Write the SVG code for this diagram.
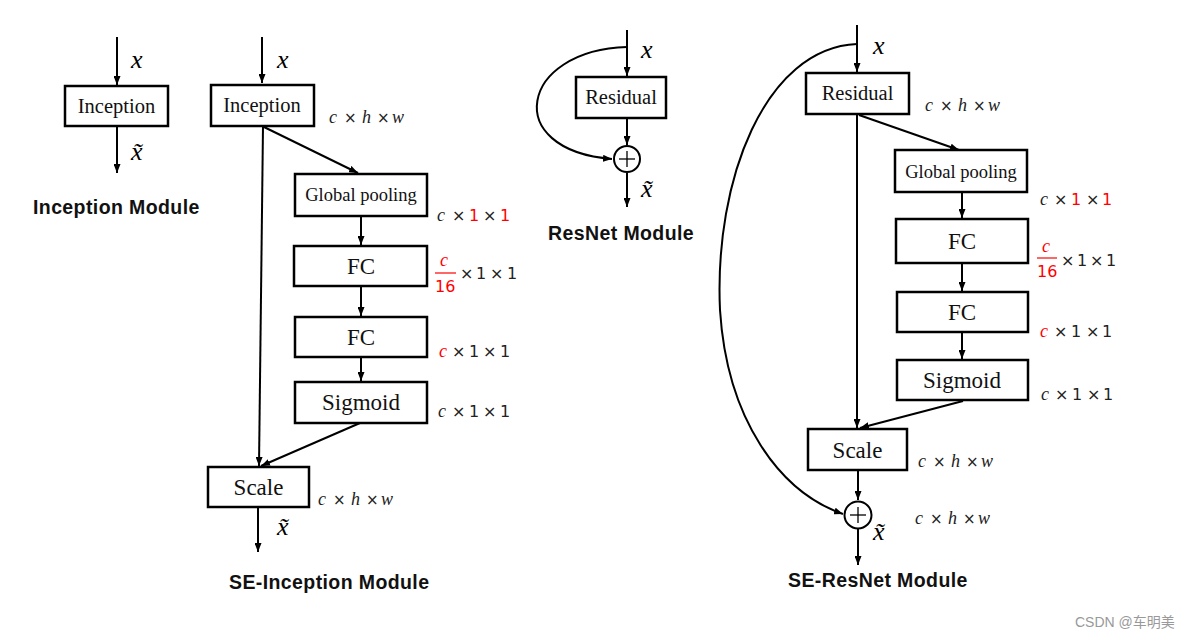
<svg xmlns="http://www.w3.org/2000/svg" width="1190" height="637" viewBox="0 0 1190 637">
<defs>
<marker id="ah" markerUnits="userSpaceOnUse" markerWidth="9" markerHeight="7" refX="9" refY="3.5" orient="auto">
<path d="M0,0 L9,3.5 L0,7 z" fill="#000"/>
</marker>
<style>
.box{fill:#fff;stroke:#000;stroke-width:2.5}
.ln{fill:none;stroke:#000;stroke-width:2;marker-end:url(#ah)}
.lb{font-family:"Liberation Serif","Times New Roman",serif;fill:#111;text-anchor:middle}
.mx{font-family:"Liberation Serif","Times New Roman",serif;font-style:italic;font-size:26px;fill:#000}
.dim{font-family:"Liberation Serif",serif;font-size:18px;fill:#222}
.dim .t{font-family:"DejaVu Sans",sans-serif;font-size:15px}
.i{font-style:italic}
.sn{font-family:"DejaVu Sans","Liberation Sans",sans-serif;font-size:16px;fill:#222}
.r{fill:#ff0000}
.ttl{font-family:"Liberation Sans",Arial,sans-serif;font-weight:bold;font-size:19.5px;letter-spacing:0.4px;fill:#111}
.pl{fill:#fff;stroke:#000;stroke-width:2}
.plus{stroke:#000;stroke-width:1.3}
</style>
</defs>
<rect width="1190" height="637" fill="#fff"/>

<g id="connectors">
<line class="ln" x1="117" y1="37" x2="117" y2="85"/>
<line class="ln" x1="117" y1="127" x2="117" y2="173"/>
<line class="ln" x1="262" y1="37" x2="262" y2="83"/>
<line class="ln" x1="263" y1="126" x2="259" y2="466"/>
<line class="ln" x1="264" y1="127" x2="358" y2="173"/>
<line class="ln" x1="361" y1="217" x2="361" y2="245"/>
<line class="ln" x1="361" y1="287" x2="361" y2="316"/>
<line class="ln" x1="361" y1="358" x2="361" y2="381"/>
<line class="ln" x1="360" y1="423" x2="261" y2="466"/>
<line class="ln" x1="258" y1="508" x2="258" y2="552"/>
<line class="ln" x1="627" y1="30" x2="627" y2="76"/>
<path class="ln" d="M627 47 C520 50 500 150 612 159"/>
<line class="ln" x1="627" y1="119" x2="627" y2="145"/>
<line class="ln" x1="627" y1="173" x2="627" y2="207"/>
<line class="ln" x1="857" y1="25" x2="857" y2="72"/>
<path class="ln" d="M857 44 C765 48 714 180 720 310 C727 420 780 492 843 514"/>
<line class="ln" x1="857" y1="115" x2="857" y2="428"/>
<line class="ln" x1="859" y1="115" x2="959" y2="150"/>
<line class="ln" x1="962" y1="193" x2="962" y2="218"/>
<line class="ln" x1="962" y1="264" x2="962" y2="291"/>
<line class="ln" x1="962" y1="333" x2="962" y2="359"/>
<line class="ln" x1="963" y1="401" x2="860" y2="428"/>
<line class="ln" x1="858" y1="471" x2="858" y2="500"/>
<line class="ln" x1="858" y1="529" x2="858" y2="565"/>
</g>

<g id="inc1">
<rect class="box" x="65" y="86" width="103" height="40"/>
<text class="lb" x="116.5" y="113" font-size="20.5">Inception</text>
</g>
<text class="mx" x="131" y="68">x</text>
<text class="mx" x="131" y="160">x̃</text>
<text class="ttl" x="33" y="214">Inception Module</text>

<g id="inc2">
<rect class="box" x="211" y="85" width="103" height="41"/>
<text class="lb" x="262" y="112" font-size="20.5">Inception</text>
</g>
<g id="gp1">
<rect class="box" x="295" y="174" width="132" height="42"/>
<text class="lb" x="361" y="201" font-size="18.5">Global pooling</text>
</g>
<g id="fc1a">
<rect class="box" x="294" y="246" width="133" height="40"/>
<text class="lb" x="361" y="274" font-size="23">FC</text>
</g>
<g id="fc1b">
<rect class="box" x="295" y="317" width="132" height="40"/>
<text class="lb" x="361" y="345" font-size="23">FC</text>
</g>
<g id="sig1">
<rect class="box" x="295" y="382" width="132" height="41"/>
<text class="lb" x="361" y="410" font-size="23">Sigmoid</text>
</g>
<g id="scale1">
<rect class="box" x="208" y="467" width="101" height="40"/>
<text class="lb" x="258.5" y="495" font-size="23">Scale</text>
</g>
<text class="mx" x="277" y="68">x</text>
<text class="mx" x="277" y="535">x̃</text>

<text class="dim" y="123"><tspan class="i" x="329">c</tspan><tspan class="t" x="344">×</tspan><tspan class="i" x="362">h</tspan><tspan class="t" x="377">×</tspan><tspan class="i" x="392">w</tspan></text>
<text class="sn" y="221"><tspan class="dim i" x="437" style="font-size:18px">c</tspan><tspan x="452">×</tspan><tspan class="r" x="469">1</tspan><tspan x="483">×</tspan><tspan class="r" x="500">1</tspan></text>
<text class="dim i r" x="440" y="266">c</text>
<line x1="435" y1="273" x2="456" y2="273" stroke="#ff0000" stroke-width="1.2"/>
<text class="sn r" x="435" y="292">16</text>
<text class="sn" y="279"><tspan x="460">×</tspan><tspan x="476">1</tspan><tspan x="490">×</tspan><tspan x="507">1</tspan></text>
<text class="sn" y="357"><tspan class="dim i r" x="439" style="font-size:18px">c</tspan><tspan x="452">×</tspan><tspan x="469">1</tspan><tspan x="483">×</tspan><tspan x="500">1</tspan></text>
<text class="sn" y="417"><tspan class="dim i" x="438" style="font-size:18px">c</tspan><tspan x="452">×</tspan><tspan x="469">1</tspan><tspan x="483">×</tspan><tspan x="500">1</tspan></text>
<text class="dim" y="505"><tspan class="i" x="318">c</tspan><tspan class="t" x="333">×</tspan><tspan class="i" x="351">h</tspan><tspan class="t" x="366">×</tspan><tspan class="i" x="381">w</tspan></text>
<text class="ttl" x="229" y="589">SE-Inception Module</text>

<g id="res1">
<rect class="box" x="576" y="77" width="90" height="41"/>
<text class="lb" x="621" y="104" font-size="20.5">Residual</text>
</g>
<g id="add1">
<circle class="pl" cx="627" cy="159" r="13"/>
<line class="plus" x1="619" y1="159" x2="635" y2="159"/>
<line class="plus" x1="627" y1="151" x2="627" y2="167"/>
</g>
<text class="mx" x="641" y="58">x</text>
<text class="mx" x="641" y="197">x̃</text>
<text class="ttl" x="548" y="240">ResNet Module</text>

<g id="res2">
<rect class="box" x="806" y="73" width="103" height="41"/>
<text class="lb" x="857.5" y="100" font-size="20.5">Residual</text>
</g>
<g id="gp2">
<rect class="box" x="895" y="150" width="132" height="42"/>
<text class="lb" x="961" y="178" font-size="18.5">Global pooling</text>
</g>
<g id="fc2a">
<rect class="box" x="896" y="219" width="132" height="44"/>
<text class="lb" x="962" y="249" font-size="23">FC</text>
</g>
<g id="fc2b">
<rect class="box" x="897" y="292" width="131" height="40"/>
<text class="lb" x="962" y="320" font-size="23">FC</text>
</g>
<g id="sig2">
<rect class="box" x="897" y="360" width="131" height="40"/>
<text class="lb" x="962" y="388" font-size="23">Sigmoid</text>
</g>
<g id="scale2">
<rect class="box" x="808" y="429" width="99" height="41"/>
<text class="lb" x="857.5" y="458" font-size="23">Scale</text>
</g>
<g id="add2">
<circle class="pl" cx="858" cy="515" r="13.5"/>
<line class="plus" x1="850" y1="515" x2="866" y2="515"/>
<line class="plus" x1="858" y1="507" x2="858" y2="523"/>
</g>
<text class="mx" x="873" y="54">x</text>
<text class="mx" x="873" y="540">x̃</text>
<text class="dim" y="111"><tspan class="i" x="925">c</tspan><tspan class="t" x="940">×</tspan><tspan class="i" x="958">h</tspan><tspan class="t" x="973">×</tspan><tspan class="i" x="988">w</tspan></text>
<text class="sn" y="205"><tspan class="dim i" x="1040" style="font-size:18px">c</tspan><tspan x="1054">×</tspan><tspan class="r" x="1071">1</tspan><tspan x="1086">×</tspan><tspan class="r" x="1102">1</tspan></text>
<text class="dim i r" x="1042" y="252">c</text>
<line x1="1037" y1="258" x2="1057" y2="258" stroke="#ff0000" stroke-width="1.2"/>
<text class="sn r" x="1037" y="277">16</text>
<text class="sn" y="266"><tspan x="1061">×</tspan><tspan x="1077">1</tspan><tspan x="1090">×</tspan><tspan x="1106">1</tspan></text>
<text class="sn" y="337"><tspan class="dim i r" x="1040" style="font-size:18px">c</tspan><tspan x="1054">×</tspan><tspan x="1071">1</tspan><tspan x="1086">×</tspan><tspan x="1102">1</tspan></text>
<text class="sn" y="400"><tspan class="dim i" x="1041" style="font-size:18px">c</tspan><tspan x="1055">×</tspan><tspan x="1072">1</tspan><tspan x="1087">×</tspan><tspan x="1103">1</tspan></text>
<text class="dim" y="467"><tspan class="i" x="918">c</tspan><tspan class="t" x="933">×</tspan><tspan class="i" x="951">h</tspan><tspan class="t" x="966">×</tspan><tspan class="i" x="981">w</tspan></text>
<text class="dim" y="524"><tspan class="i" x="915">c</tspan><tspan class="t" x="930">×</tspan><tspan class="i" x="948">h</tspan><tspan class="t" x="963">×</tspan><tspan class="i" x="978">w</tspan></text>
<text class="ttl" x="788" y="587">SE-ResNet Module</text>

<text x="1075" y="627" font-family="'Liberation Sans','Noto Sans CJK SC',sans-serif" font-size="14" fill="#999">CSDN @车明美</text>
</svg>
